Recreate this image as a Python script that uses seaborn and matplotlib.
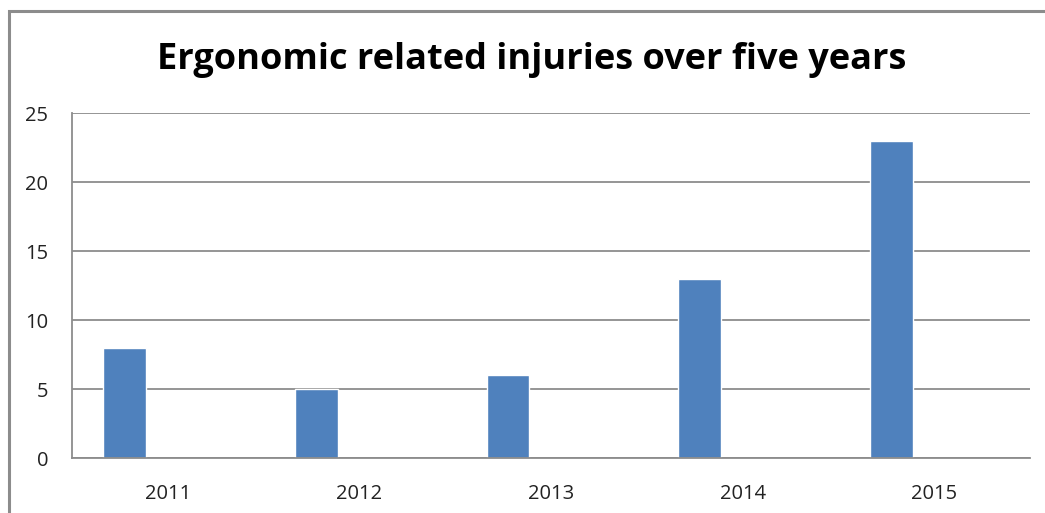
import pandas as pd
import matplotlib
matplotlib.use("Agg")
import matplotlib.pyplot as plt
from matplotlib.patches import Rectangle
import seaborn as sns

# --- data ---
years = ["2011", "2012", "2013", "2014", "2015"]
injuries = [8, 5, 6, 13, 23]
series_names = ["Series1", "Series2", "Series3"]  # only the first one has values
y_ticks = [0, 5, 10, 15, 20, 25]

BAR_COLOR = "#4F81BD"
GRID_COLOR = "#8C8C8C"

sns.set_theme(style="white")
plt.rcParams["font.family"] = ["Open Sans", "DejaVu Sans"]

df = pd.DataFrame({"year": years, "injuries": injuries, "series": series_names[0]})

fig = plt.figure(figsize=(10.45, 5.13), dpi=100)
ax = fig.add_axes([0.0689, 0.1072, 0.9167, 0.6725])

# empty series 2 and 3 keep their slots, so the bars sit left of centre like Excel
sns.barplot(data=df, x="year", y="injuries", hue="series", hue_order=series_names,
            palette={s: BAR_COLOR for s in series_names}, width=0.673, dodge=True,
            saturation=1, legend=False, ax=ax)

ax.set_ylim(0, 25)
ax.set_yticks(y_ticks)
ax.set_xlim(-0.5, len(years) - 0.5)
ax.yaxis.grid(True, color=GRID_COLOR, linewidth=1.3)
ax.set_axisbelow(True)
ax.set_xlabel("")
ax.set_ylabel("")
for side in ["top", "right"]:
    ax.spines[side].set_visible(False)
for side in ["left", "bottom"]:
    ax.spines[side].set_color(GRID_COLOR)
    ax.spines[side].set_linewidth(1.3)
ax.tick_params(axis="y", length=0, pad=17, labelsize=14.5, labelcolor="#222222")
ax.tick_params(axis="x", length=0, pad=19, labelsize=14.5, labelcolor="#222222")

fig.text(0.509, 0.883, "Ergonomic related injuries over five years",
         ha="center", va="center", fontsize=26, fontweight="bold", color="black")

# chart area border (cropped on right and bottom in the reference)
fig.patches.append(Rectangle((0.0090, -0.1), 1.2, 1.0786, transform=fig.transFigure,
                             fill=False, edgecolor="#8C8C8C", linewidth=2.2))

fig.savefig("out.png", dpi=100)
